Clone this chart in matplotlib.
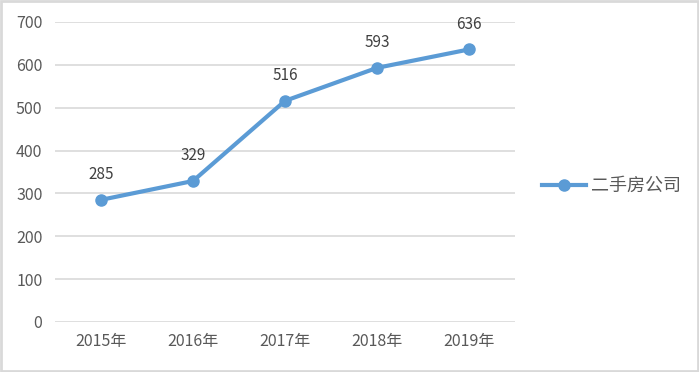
import matplotlib
matplotlib.use("Agg")
import matplotlib.pyplot as plt
from matplotlib.patches import Rectangle

plt.rcParams['font.family'] = ['Noto Sans CJK SC', 'DejaVu Sans']

years = ['2015年', '2016年', '2017年', '2018年', '2019年']
values = [285, 329, 516, 593, 636]
series_name = '二手房公司'

line_color = '#5B9BD5'
text_color = '#595959'
grid_color = '#D9D9D9'

fig = plt.figure(figsize=(6.99, 3.72), dpi=100)
ax = fig.add_axes([55/699, 1 - 322/372, 460/699, 300/372])

x = list(range(len(years)))
ax.plot(x, values, color=line_color, linewidth=3, marker='o', markersize=8,
        label=series_name, zorder=3)

for xi, v in zip(x, values):
    ax.annotate(str(v), (xi, v), xytext=(0, 12), textcoords='offset points',
                ha='center', va='bottom', fontsize=11, color='#404040')

ax.set_xlim(-0.5, len(years) - 0.5)
ax.set_ylim(0, 700)
ax.set_yticks(range(0, 701, 100))
ax.set_xticks(x)
ax.set_xticklabels(years)
ax.yaxis.grid(True, color=grid_color, linewidth=1.2)
ax.set_axisbelow(True)
for s in ax.spines.values():
    s.set_visible(False)
ax.tick_params(length=0, colors=text_color, labelsize=11.5)
ax.tick_params(axis='y', pad=9)
ax.tick_params(axis='x', pad=8)

fig.legend(loc='center left', bbox_to_anchor=(526/699, 1 - 186/372), frameon=False,
           fontsize=13, labelcolor=text_color, handlelength=2.4, handletextpad=0.3)

fig.patches.append(Rectangle((0.001, 0.002), 0.997, 0.995, transform=fig.transFigure,
                             fill=False, edgecolor=grid_color, linewidth=2))

fig.savefig('out.png', dpi=100)
